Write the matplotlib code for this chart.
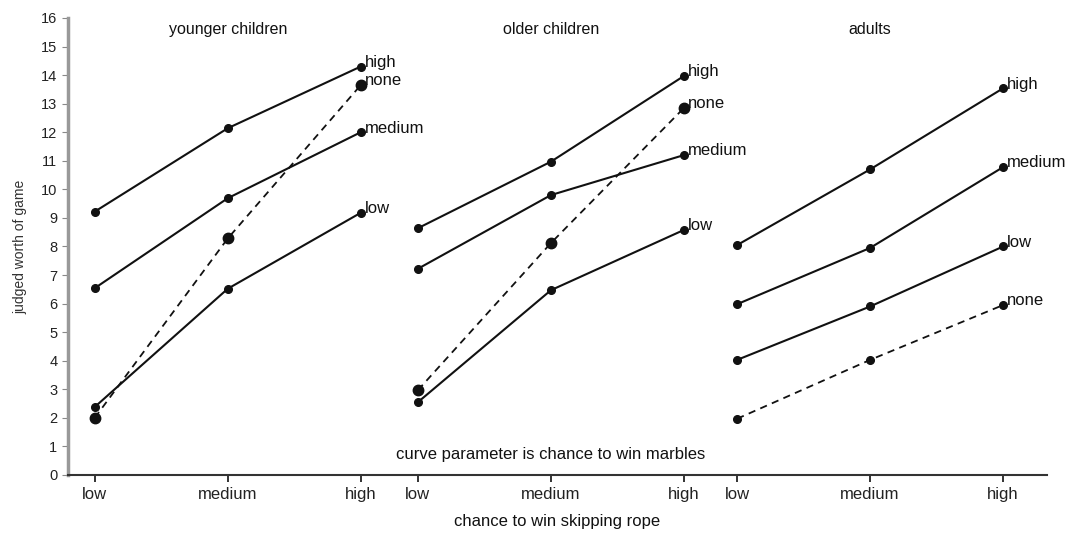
import matplotlib.pyplot as plt

plt.rcParams['font.family'] = ['Liberation Sans', 'DejaVu Sans']

levels = ['low', 'medium', 'high']
groups = ['younger children', 'older children', 'adults']
curves = ['high', 'medium', 'low', 'none']

# judged worth of game
young_high = [9.22, 12.14, 14.3]
young_medium = [6.54, 9.69, 12.0]
young_low = [2.38, 6.52, 9.18]
young_none = [2.0, 8.28, 13.65]

older_high = [8.64, 10.97, 13.97]
older_medium = [7.22, 9.8, 11.2]
older_low = [2.55, 6.47, 8.58]
older_none = [2.97, 8.12, 12.85]

adult_high = [8.05, 10.7, 13.54]
adult_medium = [5.98, 7.95, 10.78]
adult_low = [4.03, 5.9, 8.0]
adult_none = [1.97, 4.03, 5.95]

data = [
    [young_high, young_medium, young_low, young_none],
    [older_high, older_medium, older_low, older_none],
    [adult_high, adult_medium, adult_low, adult_none],
]

offsets = [0, 2.43, 4.83]
ink = '#111111'

fig = plt.figure(figsize=(10.75, 5.37), dpi=100)
ax = fig.add_axes([0.063, 0.1155, 0.911, 0.851])

xticks, xlabels = [], []
for g, (name, rows) in enumerate(zip(groups, data)):
    xs = [offsets[g] + i for i in range(3)]
    xticks += xs
    xlabels += levels
    for curve, vals in zip(curves, rows):
        if curve == 'none':
            ms = 7.5 if g < 2 else 5.5
            ax.plot(xs, vals, color=ink, lw=1.3, ls=(0, (4, 3)),
                    marker='o', ms=ms)
        else:
            ax.plot(xs, vals, color=ink, lw=1.5, marker='o', ms=5.5)
        ax.annotate(curve, (xs[-1], vals[-1]), xytext=(3, 3),
                    textcoords='offset points', ha='left', va='center',
                    fontsize=12, color=ink)
    ax.text(xs[1], 15.6, name, ha='center', va='center', fontsize=11.5,
            color=ink)

ax.text(offsets[1] + 1, 0.7, 'curve parameter is chance to win marbles',
        ha='center', va='center', fontsize=12, color=ink)

ax.set_xlim(-0.203, 7.16)
ax.set_ylim(0, 16)
ax.set_yticks(range(17))
ax.set_xticks(xticks)
ax.set_xticklabels(xlabels, fontsize=12, color='#222222')
ax.tick_params(axis='y', labelsize=10.5, length=4, color='#888888',
               labelcolor='#222222')
ax.tick_params(axis='x', length=5, width=1.2, color=ink, pad=4)

for side in ['top', 'right']:
    ax.spines[side].set_visible(False)
ax.spines['left'].set_color('#999999')
ax.spines['left'].set_linewidth(2.5)
ax.spines['bottom'].set_color('#333333')
ax.spines['bottom'].set_linewidth(1.5)

ax.set_xlabel('chance to win skipping rope', fontsize=12, color=ink,
              labelpad=8)
ax.set_ylabel('judged worth of game', fontsize=10, color='#333333',
              labelpad=10)

fig.savefig('out.png')
